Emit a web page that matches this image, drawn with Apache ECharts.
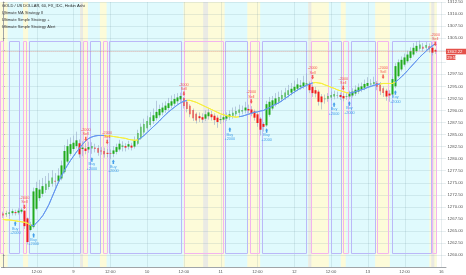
<!DOCTYPE html>
<html><head><meta charset="utf-8">
<script src="https://cdn.jsdelivr.net/npm/echarts/dist/echarts.min.js"></script>
<style>html,body{margin:0;padding:0;background:#fff}#c{width:466px;height:275px}</style>
</head><body><div id="c"></div>
<script>
const N = 145;
const tickIdx = [11,23,35,47,59,71,83,95,107,119,131,143];
const tickText = ['12:00','9','12:00','10','12:00','11','12:00','12','12:00','13','12:00','16'];

const opens = [1268.6,1268.4,1268.5,1268.7,1268.9,1268.8,1269.0,1269.2,1267.6,1265.2,
1265.8,1269.6,1271.8,1272.7,1273.5,1274.1,1274.8,1275.4,1275.3,1275.9,
1277.2,1279.4,1281.0,1282.0,1282.6,1283.2,1282.0,1282.1,1281.9,1282.1,
1282.3,1282.2,1281.7,1281.6,1281.2,1281.1,1281.0,1281.4,1281.9,1282.5,
1282.6,1282.5,1282.7,1282.5,1283.1,1284.2,1285.4,1286.3,1287.0,1287.8,
1288.4,1289.0,1289.6,1290.1,1290.5,1291.0,1291.4,1291.9,1292.3,1292.6,
1291.8,1291.0,1290.1,1289.3,1288.8,1288.6,1288.3,1288.8,1289.2,1288.9,
1288.5,1288.0,1288.1,1288.3,1288.6,1288.9,1289.2,1289.5,1289.8,1290.0,
1290.3,1290.2,1289.8,1289.2,1288.3,1287.2,1286.9,1289.1,1290.4,1291.2,
1291.8,1292.3,1292.7,1293.2,1293.7,1294.1,1294.5,1294.9,1295.0,1295.4,
1295.5,1294.9,1294.2,1293.9,1292.9,1292.3,1292.4,1292.7,1292.9,1293.1,
1293.2,1293.0,1292.8,1292.9,1293.1,1293.5,1293.9,1294.3,1294.7,1295.1,
1295.4,1295.5,1295.7,1295.3,1294.6,1294.1,1293.5,1293.3,1295.0,1297.1,
1298.5,1299.5,1300.2,1300.9,1301.6,1302.3,1302.8,1303.2,1303.0,1303.3,
1303.0,1302.5];
const closes = [1268.2,1268.7,1268.9,1269.1,1268.7,1269.2,1269.4,1266.0,1262.7,1266.3,
1273.2,1273.9,1273.6,1274.3,1274.8,1275.4,1276.1,1275.2,1276.5,1278.6,
1281.6,1282.6,1283.0,1283.3,1283.8,1280.9,1282.3,1281.6,1282.4,1282.6,
1282.0,1281.2,1281.5,1280.9,1281.0,1281.0,1281.7,1282.4,1283.1,1282.7,
1282.3,1283.0,1282.3,1283.8,1285.3,1286.6,1287.2,1287.8,1288.6,1289.0,
1289.7,1290.3,1290.6,1291.0,1291.5,1291.9,1292.4,1292.7,1293.0,1290.9,
1290.3,1289.2,1288.4,1287.9,1288.4,1288.1,1289.2,1289.6,1288.6,1288.0,
1287.6,1288.2,1288.6,1288.9,1289.2,1289.5,1289.9,1290.2,1290.1,1290.6,
1290.0,1289.4,1288.5,1287.4,1286.0,1286.6,1291.3,1291.8,1292.1,1292.5,
1292.8,1293.2,1293.7,1294.2,1294.5,1294.9,1295.4,1295.2,1295.8,1295.6,
1294.2,1293.6,1293.5,1291.8,1291.7,1292.5,1293.0,1293.2,1293.4,1293.2,
1292.8,1292.5,1292.9,1293.4,1293.9,1294.3,1294.8,1295.0,1295.5,1295.7,
1295.6,1295.9,1294.9,1294.0,1293.6,1292.9,1293.1,1296.5,1299.2,1300.0,
1300.5,1301.0,1301.6,1302.3,1303.0,1303.4,1303.7,1302.8,1303.6,1302.7,
1302.0,1302.22];
const lows = [1267.7,1267.9,1268.1,1268.2,1268.2,1268.4,1268.6,1265.4,1262.2,1264.9,
1265.5,1269.3,1271.2,1272.1,1272.9,1273.6,1274.2,1274.0,1274.8,1275.5,
1276.9,1279.0,1280.6,1281.5,1282.1,1280.2,1280.5,1280.9,1281.2,1281.0,
1281.3,1280.6,1280.8,1280.2,1280.3,1279.9,1280.3,1280.9,1281.5,1281.5,
1281.5,1281.9,1281.7,1282.1,1282.8,1283.9,1285.0,1285.8,1286.5,1287.2,
1287.9,1288.5,1289.0,1289.5,1290.0,1290.4,1290.9,1291.3,1291.7,1290.4,
1289.6,1288.6,1287.8,1287.3,1287.6,1287.4,1287.8,1288.1,1287.9,1287.0,
1286.4,1287.2,1287.5,1287.8,1288.0,1288.3,1288.6,1288.9,1289.2,1289.4,
1289.4,1288.8,1287.9,1286.6,1284.8,1285.6,1286.6,1288.7,1290.0,1290.8,
1291.3,1291.8,1292.2,1292.7,1293.1,1293.5,1294.0,1294.3,1294.5,1294.6,
1293.6,1292.8,1292.7,1291.0,1290.2,1291.4,1291.8,1292.1,1292.3,1292.5,
1292.2,1291.9,1292.2,1292.3,1292.7,1293.0,1293.4,1293.8,1294.2,1294.6,
1294.8,1295.0,1294.2,1293.2,1292.8,1292.0,1291.8,1292.9,1294.6,1296.8,
1298.1,1299.1,1299.8,1300.4,1301.2,1301.9,1302.4,1302.2,1302.5,1302.0,
1301.4,1301.7];
const highs = [1269.0,1269.2,1269.4,1269.6,1269.4,1269.7,1269.8,1269.3,1267.8,1266.9,
1274.0,1275.2,1275.6,1276.0,1276.4,1277.0,1277.6,1277.0,1278.0,1279.6,
1282.8,1284.0,1284.4,1284.8,1285.6,1284.0,1283.6,1283.2,1283.5,1283.4,
1283.1,1282.8,1282.4,1282.3,1282.0,1281.9,1282.6,1283.1,1283.9,1283.6,
1283.2,1283.7,1283.3,1284.6,1286.0,1287.3,1288.3,1288.9,1289.7,1290.4,
1292.0,1291.2,1291.6,1291.9,1292.6,1293.1,1293.4,1293.6,1293.7,1292.8,
1292.0,1291.3,1290.4,1289.6,1289.6,1289.4,1290.0,1290.4,1289.9,1289.4,
1289.0,1289.0,1289.4,1289.6,1290.0,1290.6,1290.8,1291.2,1291.0,1291.8,
1291.2,1290.9,1290.2,1289.5,1288.6,1287.6,1292.0,1292.8,1293.0,1293.6,
1293.9,1294.2,1294.7,1295.3,1295.7,1296.2,1296.7,1296.3,1297.2,1297.7,
1296.0,1295.4,1294.9,1294.3,1293.4,1293.3,1293.6,1293.9,1294.1,1293.9,
1293.7,1293.5,1293.6,1294.1,1294.6,1295.2,1295.6,1295.8,1296.4,1296.9,
1296.5,1297.0,1296.1,1295.9,1295.0,1294.5,1294.2,1297.0,1299.8,1300.6,
1301.2,1301.8,1302.4,1303.1,1304.0,1304.3,1304.5,1304.0,1304.2,1303.9,
1303.4,1302.8];
const ma = [1267.4,1267.3,1267.3,1267.2,1267.1,1267.0,1266.9,1266.8,1266.6,1266.2,
1266.1,1266.7,1267.4,1268.2,1269.3,1270.5,1272.0,1273.5,1275.0,1276.3,
1277.5,1278.6,1279.6,1280.5,1281.4,1282.2,1283.0,1283.7,1284.2,1284.5,
1284.7,1284.8,1284.8,1284.8,1284.7,1284.7,1284.6,1284.5,1284.4,1284.3,
1284.2,1284.0,1283.9,1283.8,1283.9,1284.3,1284.8,1285.4,1286.0,1286.6,
1287.2,1287.8,1288.5,1289.1,1289.7,1290.2,1290.7,1291.2,1291.6,1291.9,
1292.1,1292.1,1291.9,1291.7,1291.4,1291.1,1290.8,1290.5,1290.2,1289.9,
1289.6,1289.3,1289.1,1288.9,1288.8,1288.7,1288.6,1288.7,1288.8,1289.0,
1289.2,1289.4,1289.6,1289.7,1289.9,1290.0,1290.3,1290.6,1291.0,1291.3,
1291.6,1292.0,1292.5,1292.9,1293.4,1293.8,1294.2,1294.6,1294.9,1295.2,
1295.5,1295.7,1295.8,1295.7,1295.6,1295.3,1295.1,1294.8,1294.6,1294.3,
1294.1,1293.9,1293.7,1293.6,1293.7,1293.9,1294.1,1294.3,1294.5,1294.8,
1295.0,1295.2,1295.4,1295.5,1295.6,1295.6,1295.6,1295.6,1295.9,1296.4,
1297.0,1297.6,1298.3,1299.0,1299.7,1300.4,1301.1,1301.7,1302.3,1302.9,
1303.4,1303.8];
const maYellow = [[-1,8.5],[32.5,43.5],[59.5,76.5],[100.5,112.5],[122.5,127.5]];

const boxStart = [-1,2.1,6.6,8.5,26.1,28.4,32.5,34.5,58.9,72.3,80.7,84.5,100.6,107.0,110.8,113.4,122.1,126.9,139.8];
const boxEnd   = [0.1,5.3,7.5,25.2,27.4,31.6,33.8,58.2,71.7,79.7,83.6,99.0,106.0,110.2,112.4,121.4,125.6,139.6,141.2];
const boxShort = [1,0,1,0,1,0,1,0,1,0,1,0,1,0,1,0,1,0,1];
const posHigh = 1304.5, posLow = 1260.4;

const barsEnd = 141.5;
const yellowStart = [-1,6.56,25.2,31.6,58.9,79.7,99.6,110.2,121.4,139.1];
const yellowEnd   = [1.5,8.2,27.7,33.8,72.3,83.9,106.3,111.8,126.2,141.5];
const grayStart = [25.2,65.3,99.6,139.7];
const grayEnd   = [26.1,66.9,100.6,140.7];

const sellIdx = [7,27,34,59,81,101,111,124,141];
const sellAt  = [1269.5,1283.6,1283.0,1293.0,1291.4,1296.4,1294.2,1296.5,1303.3];
const buyIdx  = [4,10,29,36,74,86,108,113,128];
const buyAt   = [1267.0,1264.6,1280.3,1279.8,1286.5,1286.3,1291.7,1291.9,1294.2];
const lastPrice = 1302.22;
const countdown = '29:51';
const headerLines = ['GOLD / US DOLLAR, 60, FX_IDC, Heikin Ashi','Ultimate MA Strategy II','Ultimate Simple Strategy +','Ultimate Simple Strategy Alert'];

const yMin = 1257.5, yMax = 1312.5;
const FONT = 'Liberation Sans';
const cats = Array.from({length:N}, (_, i) => { const k = tickIdx.indexOf(i); return k >= 0 ? tickText[k] : ''; });
const bandColors = ['#e0fafd', '#fdfbd9', '#eaeae4'];
const gridCol = 'rgba(110,150,160,0.17)';

const bandData = [[-1, barsEnd, 0]]
  .concat(yellowStart.map((s, k) => [s, yellowEnd[k], 1]))
  .concat(grayStart.map((s, k) => [s, grayEnd[k], 2]));
const boxData = boxStart.map((s, k) => [s, boxEnd[k], boxShort[k]]);

const chart = echarts.init(document.getElementById('c'), null, {renderer: 'canvas'});
chart.setOption({
  animation: false,
  backgroundColor: '#fff',
  textStyle: {fontFamily: FONT},
  grid: {left: 0, right: 14, top: 1.4, bottom: 7.9, show: false},
  xAxis: [{
    type: 'category', data: cats, boundaryGap: true, z: 1,
    axisLine: {lineStyle: {color: '#a0a4a8', width: 1}},
    axisTick: {show: false},
    axisLabel: {interval: 0, fontSize: 4.2, color: '#555', margin: 3, fontFamily: FONT},
    splitLine: {show: false}
  }, {
    type: 'value', min: -0.5, max: N - 0.5, show: false, gridIndex: 0
  }],
  yAxis: [{
    type: 'value', position: 'right', min: yMin, max: yMax, interval: 2.5, z: 1,
    axisLine: {show: true, lineStyle: {color: '#a0a4a8'}},
    axisTick: {show: true, length: 1.5, lineStyle: {color: '#888'}},
    axisLabel: {fontSize: 4.3, color: '#555', margin: 1.5, fontFamily: FONT,
      formatter: v => (v < 1259 || Math.abs(v - lastPrice) < 2.3) ? '' : v.toFixed(2)},
    splitLine: {show: true, lineStyle: {color: gridCol, width: 1}}
  }],
  visualMap: [{
    type: 'piecewise', show: false, seriesIndex: 5, dimension: 0,
    pieces: maYellow.map(([a, b]) => ({gte: a, lte: b, color: '#f6ee3c'})),
    outOfRange: {color: '#6596ef'}
  }],
  series: [
    { // background bands
      type: 'custom', xAxisIndex: 1, yAxisIndex: 0, z: 0, silent: true,
      data: bandData, encode: {x: [0, 1], y: 2},
      renderItem(params, api) {
        const a = api.coord([api.value(0), yMax]), b = api.coord([api.value(1), yMin]);
        return {type: 'rect', shape: {x: a[0], y: a[1], width: b[0] - a[0], height: b[1] - a[1]},
          style: {fill: bandColors[api.value(2)]}};
      }
    },
    { // vertical grid lines
      type: 'custom', xAxisIndex: 0, yAxisIndex: 0, z: 1, silent: true,
      data: tickIdx.map(i => [i, yMin]), encode: {x: 0, y: 1},
      renderItem(params, api) {
        const a = api.coord([api.value(0), yMax]), b = api.coord([api.value(0), yMin]);
        const x = Math.round(a[0]) + 0.5;
        return {type: 'line', shape: {x1: x, y1: a[1], x2: x, y2: b[1]}, style: {stroke: gridCol, lineWidth: 1}};
      }
    },
    { // position boxes
      type: 'custom', xAxisIndex: 1, yAxisIndex: 0, z: 2, silent: true,
      data: boxData, encode: {x: [0, 1], y: 2},
      renderItem(params, api) {
        const a = api.coord([api.value(0), posHigh]), b = api.coord([api.value(1), posLow]);
        const x1 = Math.round(a[0]) + 0.5, x2 = Math.round(b[0]) + 0.5;
        const y1 = Math.round(a[1]) + 0.5, y2 = Math.round(b[1]) + 0.5;
        return {type: 'polyline', shape: {points: [[x1, y1], [x2, y1], [x2, y2], [x1, y2], [x1, y1]]},
          style: {stroke: api.value(2) ? '#f2b4ee' : '#bbb8f8', fill: null, lineWidth: 1}};
      }
    },
    { // wicks
      type: 'custom', xAxisIndex: 0, yAxisIndex: 0, z: 3, silent: true,
      data: lows.map((l, i) => [i, l, highs[i]]), encode: {x: 0, y: [1, 2]},
      renderItem(params, api) {
        const lo = api.coord([api.value(0), api.value(1)]), hi = api.coord([api.value(0), api.value(2)]);
        const x = Math.round(lo[0] - 0.5) + 0.5;
        return {type: 'line', shape: {x1: x, y1: lo[1], x2: x, y2: hi[1]},
          style: {stroke: 'rgba(150,168,200,0.6)', lineWidth: 1}};
      }
    },
    { // bodies
      type: 'candlestick', xAxisIndex: 0, yAxisIndex: 0, z: 4, barWidth: 2.2,
      data: opens.map((o, i) => [o, closes[i], Math.min(o, closes[i]), Math.max(o, closes[i])]),
      itemStyle: {color: '#22ab1d', color0: '#ee1c1c', borderColor: '#22ab1d', borderColor0: '#ee1c1c', borderWidth: 0},
      markLine: {silent: true, symbol: ['none', 'none'], label: {show: false},
        lineStyle: {color: 'rgba(205,100,90,0.5)', type: 'dotted', width: 1},
        data: [{yAxis: lastPrice}]}
    },
    { // MA
      type: 'line', xAxisIndex: 0, yAxisIndex: 0, z: 5, data: ma, showSymbol: false, silent: true,
      lineStyle: {width: 1}
    },
    { // sells
      type: 'scatter', xAxisIndex: 0, yAxisIndex: 0, z: 6, silent: true,
      data: sellIdx.map((i, k) => [i, sellAt[k]]),
      symbol: 'path://M1,0L3,0L3,3L4,3L2,6L0,3L1,3Z', symbolSize: [3, 4.5], symbolOffset: [0, -2.25],
      itemStyle: {color: '#f03a36'},
      label: {show: true, position: 'top', distance: 0.5, formatter: '-2000\nSell', fontSize: 3.8,
        lineHeight: 4.3, color: '#f03a36', fontFamily: FONT}
    },
    { // buys
      type: 'scatter', xAxisIndex: 0, yAxisIndex: 0, z: 6, silent: true,
      data: buyIdx.map((i, k) => [i, buyAt[k]]),
      symbol: 'path://M2,0L4,3L3,3L3,6L1,6L1,3L0,3Z', symbolSize: [3, 4.5], symbolOffset: [0, 2.25],
      itemStyle: {color: '#1e88e5'},
      label: {show: true, position: 'bottom', distance: 0.5, formatter: 'Buy\n+2000', fontSize: 3.8,
        lineHeight: 4.3, color: '#1e88e5', fontFamily: FONT}
    }
  ]
});

const py = chart.convertToPixel({yAxisIndex: 0}, lastPrice);
const px = chart.convertToPixel({xAxisIndex: 1}, N - 0.5);
const graphics = headerLines.map((t, k) => ({
  type: 'text', x: 2, y: 6 + k * 6.8, z: 20, silent: true,
  style: {text: t, fontSize: 4, fontFamily: FONT, fill: k === 0 ? '#222' : '#333', verticalAlign: 'middle', align: 'left'}
}));
graphics.push(
  {type: 'rect', z: 20, shape: {x: px, y: py - 2.8, width: 466 - px, height: 5.6}, style: {fill: '#e4514a'}},
  {type: 'text', z: 21, x: px + 1, y: py, style: {text: lastPrice.toFixed(2), fontSize: 4.3, fontFamily: FONT, fill: '#fff', verticalAlign: 'middle'}},
  {type: 'rect', z: 20, shape: {x: px + 0.5, y: py + 3.4, width: 9, height: 5}, style: {fill: '#e4514a'}},
  {type: 'text', z: 21, x: px + 1.3, y: py + 5.9, style: {text: countdown, fontSize: 3.9, fontFamily: FONT, fill: '#fff', verticalAlign: 'middle'}}
);
chart.setOption({graphic: graphics});
</script>
</body></html>
